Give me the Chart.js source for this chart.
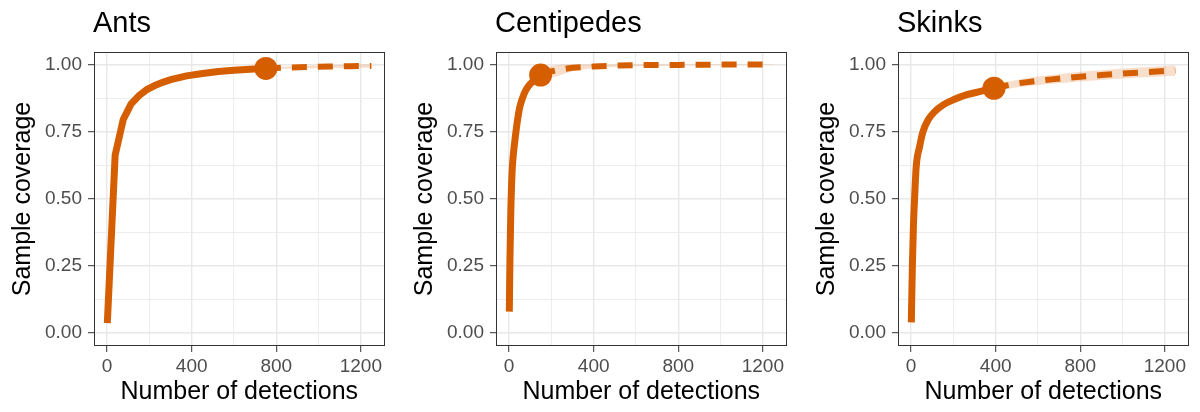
<!DOCTYPE html>
<html>
<head>
<meta charset="utf-8">
<script src="https://cdn.jsdelivr.net/npm/chart.js@4.4.1/dist/chart.umd.min.js"></script>
<style>
  html, body { margin: 0; padding: 0; background: #fff; }
  #wrap { position: relative; width: 1200px; height: 412px; overflow: hidden; }
  .panel { position: absolute; top: 0; width: 396px; height: 412px; }
  .title { position: absolute; top: 8px; font: 29px "Liberation Sans", Arial, sans-serif; line-height: 29px; color: #000; }
</style>
</head>
<body>
<div id="wrap">
  <div class="panel" style="left:0px"><canvas id="ants"></canvas></div>
  <div class="panel" style="left:402px"><canvas id="centipedes"></canvas></div>
  <div class="panel" style="left:804px"><canvas id="skinks"></canvas></div>
  <div class="title" style="left:93px">Ants</div>
  <div class="title" style="left:495px">Centipedes</div>
  <div class="title" style="left:897px">Skinks</div>
</div>
<script>
// axis ticks
const xMajor = [0, 400, 800, 1200];
const xMinor = [200, 600, 1000];
const yMajor = [0, 0.25, 0.5, 0.75, 1];
const yMinor = [0.125, 0.375, 0.625, 0.875];

// Ants
const antsObsX = [1, 38, 76, 113, 151, 188, 226, 263, 301, 376, 451, 526, 601, 676, 751];
const antsObsY = [0.037, 0.663, 0.795, 0.853, 0.885, 0.907, 0.922, 0.934, 0.944, 0.958, 0.967, 0.974, 0.979, 0.983, 0.986];
const antsExtX = [751, 850, 950, 1050, 1150, 1250];
const antsExtY = [0.986, 0.989, 0.991, 0.993, 0.994, 0.995];
const antsBandX = [601, 676, 751, 850, 950, 1050, 1150, 1250];
const antsLow = [0.977, 0.981, 0.983, 0.985, 0.986, 0.987, 0.988, 0.988];
const antsUp = [0.981, 0.985, 0.989, 0.993, 0.996, 0.998, 1.0, 1.0];

// Centipedes
const centObsX = [1, 4, 8, 14, 20, 30, 40, 50, 60, 79, 100, 125, 149];
const centObsY = [0.08, 0.28, 0.45, 0.6, 0.665, 0.735, 0.795, 0.84, 0.868, 0.905, 0.928, 0.947, 0.961];
const centExtX = [149, 200, 250, 300, 400, 500, 600, 800, 1000, 1250];
const centExtY = [0.961, 0.975, 0.983, 0.988, 0.993, 0.996, 0.998, 0.999, 1.0, 1.0];
const centBandX = [100, 125, 149, 200, 250, 300, 400, 500, 600, 800, 1000, 1250];
const centLow = [0.915, 0.928, 0.938, 0.95, 0.963, 0.975, 0.987, 0.991, 0.994, 0.997, 0.998, 0.999];
const centUp = [0.94, 0.965, 0.982, 0.995, 1.0, 1.0, 1.0, 1.0, 1.0, 1.0, 1.0, 1.0];

// Skinks
const skObsX = [1, 6, 11, 16, 24, 40, 56, 80, 112, 152, 200, 264, 328, 392];
const skObsY = [0.04, 0.25, 0.4, 0.494, 0.619, 0.694, 0.75, 0.794, 0.825, 0.85, 0.869, 0.888, 0.9, 0.912];
const skExtX = [392, 450, 512, 600, 665, 800, 900, 1000, 1070, 1200, 1250];
const skExtY = [0.912, 0.922, 0.931, 0.94, 0.945, 0.955, 0.961, 0.967, 0.97, 0.976, 0.978];
const skBandX = [264, 328, 392, 450, 512, 600, 665, 800, 900, 1000, 1070, 1200, 1250];
const skLow = [0.88, 0.89, 0.9, 0.909, 0.917, 0.924, 0.929, 0.937, 0.943, 0.948, 0.951, 0.957, 0.959];
const skUp = [0.896, 0.91, 0.924, 0.935, 0.945, 0.956, 0.961, 0.973, 0.979, 0.986, 0.989, 0.995, 0.997];

const ORANGE = '#D55E00';
const BAND = 'rgba(213, 94, 0, 0.2)';
const FONT = '"Liberation Sans", Arial, sans-serif';

const zip = (xs, ys) => xs.map((x, i) => ({ x: x, y: ys[i] }));

// panel border drawn over the plot like theme_bw
const borderPlugin = {
    id: 'panelBorder',
    afterDraw(chart) {
        const a = chart.chartArea;
        const ctx = chart.ctx;
        ctx.save();
        ctx.strokeStyle = '#333333';
        ctx.lineWidth = 1;
        ctx.strokeRect(Math.round(a.left) + 0.5, Math.round(a.top) + 0.5,
            Math.round(a.right - a.left) - 1, Math.round(a.bottom - a.top) - 1);
        ctx.restore();
    }
};

function gridStyle(majors) {
    return {
        color: '#e8e8e8',
        lineWidth: (c) => (c.tick && majors.includes(c.tick.value)) ? 1.4 : 0.8,
        tickColor: (c) => (c.tick && majors.includes(c.tick.value)) ? '#333333' : 'rgba(0,0,0,0)',
        tickLength: 6,
        tickWidth: 1
    };
}

function makePanel(id, obsX, obsY, extX, extY, bandX, low, up, linear) {
    const last = obsX.length - 1;
    new Chart(document.getElementById(id), {
        type: 'line',
        data: {
            datasets: [
                { data: zip(bandX, low), borderWidth: 0, pointRadius: 0, fill: false, order: 3 },
                { data: zip(bandX, up), borderWidth: 0, pointRadius: 0, fill: '-1', backgroundColor: BAND, order: 3 },
                {
                    data: zip(obsX, obsY), borderColor: ORANGE, borderWidth: 7, pointRadius: 0,
                    cubicInterpolationMode: linear ? 'default' : 'monotone', tension: 0, order: 1
                },
                {
                    data: zip(extX, extY), borderColor: ORANGE, borderWidth: 6, borderDash: [15, 11],
                    pointRadius: 0, order: 2
                },
                {
                    type: 'scatter', data: [{ x: obsX[last], y: obsY[last] }],
                    pointRadius: 11.5, backgroundColor: ORANGE, borderWidth: 0, order: 0
                }
            ]
        },
        options: {
            responsive: true,
            maintainAspectRatio: false,
            animation: false,
            layout: { padding: { top: 52, right: 8, left: 0, bottom: 0 } },
            plugins: { legend: { display: false }, tooltip: { enabled: false } },
            scales: {
                x: {
                    type: 'linear', min: -62, max: 1312,
                    afterBuildTicks: (s) => { s.ticks = xMajor.concat(xMinor).sort((a, b) => a - b).map(v => ({ value: v })); },
                    afterFit: (s) => { s.height = 66; },
                    grid: gridStyle(xMajor),
                    border: { display: false },
                    ticks: {
                        color: '#4d4d4d', font: { family: FONT, size: 19 }, padding: 3, maxRotation: 0,
                        callback: (v) => xMajor.includes(v) ? String(v) : ''
                    },
                    title: {
                        display: true, text: 'Number of detections', color: '#000',
                        font: { family: FONT, size: 25, lineHeight: 1.2 }, padding: { top: 0, bottom: 5 }
                    }
                },
                y: {
                    type: 'linear', min: -0.048, max: 1.047,
                    afterBuildTicks: (s) => { s.ticks = yMajor.concat(yMinor).sort((a, b) => a - b).map(v => ({ value: v })); },
                    afterFit: (s) => { s.width = 94; },
                    grid: gridStyle(yMajor),
                    border: { display: false },
                    ticks: {
                        color: '#4d4d4d', font: { family: FONT, size: 19 }, padding: 6,
                        callback: (v) => yMajor.includes(v) ? v.toFixed(2) : ''
                    },
                    title: {
                        display: true, text: 'Sample coverage', color: '#000',
                        font: { family: FONT, size: 25, lineHeight: 1.2 }, padding: { top: 8, bottom: 0 }
                    }
                }
            }
        },
        plugins: [borderPlugin]
    });
}

makePanel('ants', antsObsX, antsObsY, antsExtX, antsExtY, antsBandX, antsLow, antsUp, true);
makePanel('centipedes', centObsX, centObsY, centExtX, centExtY, centBandX, centLow, centUp, false);
makePanel('skinks', skObsX, skObsY, skExtX, skExtY, skBandX, skLow, skUp, false);
</script>
</body>
</html>
